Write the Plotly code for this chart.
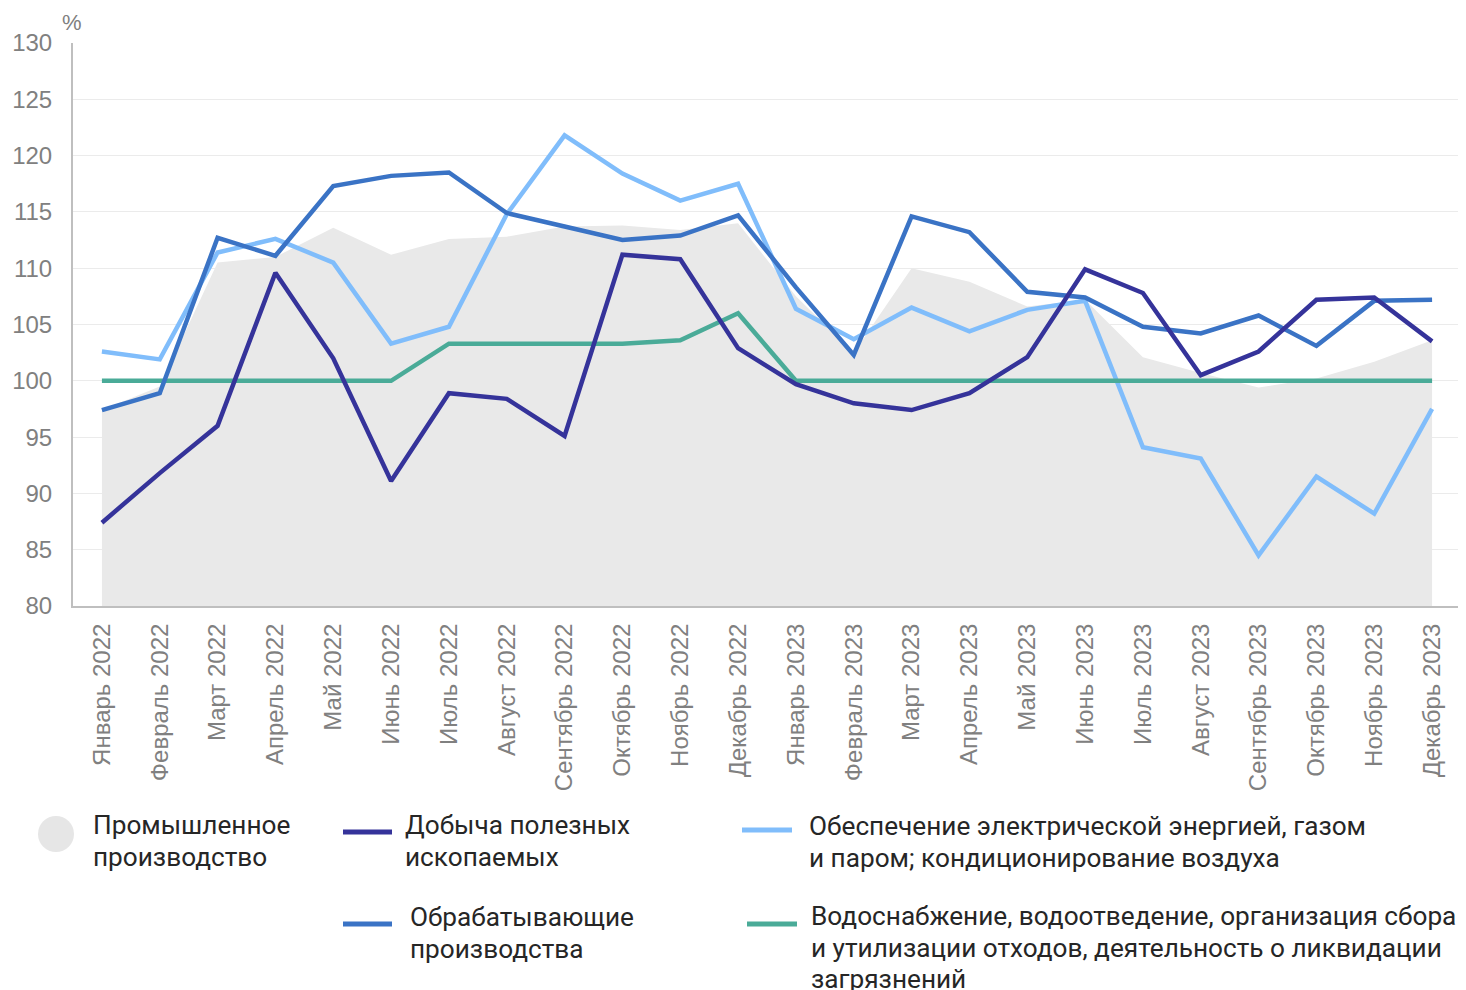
import plotly.graph_objects as go

months = ["Январь 2022", "Февраль 2022", "Март 2022", "Апрель 2022", "Май 2022", "Июнь 2022",
          "Июль 2022", "Август 2022", "Сентябрь 2022", "Октябрь 2022", "Ноябрь 2022", "Декабрь 2022",
          "Январь 2023", "Февраль 2023", "Март 2023", "Апрель 2023", "Май 2023", "Июнь 2023",
          "Июль 2023", "Август 2023", "Сентябрь 2023", "Октябрь 2023", "Ноябрь 2023", "Декабрь 2023"]

industrial = [97.4, 99.5, 110.5, 111.0, 113.6, 111.2, 112.6, 112.8, 113.7, 113.8, 113.4, 114.0,
              107.5, 102.5, 110.0, 108.8, 106.6, 107.2, 102.1, 100.7, 99.4, 100.2, 101.7, 103.6]
mining = [87.4, 91.8, 96.0, 109.6, 102.0, 91.1, 98.9, 98.4, 95.1, 111.2, 110.8, 102.9,
          99.7, 98.0, 97.4, 98.9, 102.1, 109.9, 107.8, 100.5, 102.6, 107.2, 107.4, 103.5]
manufacturing = [97.4, 98.9, 112.7, 111.1, 117.3, 118.2, 118.5, 114.9, 113.7, 112.5, 112.9, 114.7,
                 108.3, 102.3, 114.6, 113.2, 107.9, 107.4, 104.8, 104.2, 105.8, 103.1, 107.1, 107.2]
electricity = [102.6, 101.9, 111.4, 112.6, 110.5, 103.3, 104.8, 114.8, 121.8, 118.4, 116.0, 117.5,
               106.4, 103.7, 106.5, 104.4, 106.3, 107.1, 94.1, 93.1, 84.5, 91.5, 88.2, 97.5]
water = [100.0, 100.0, 100.0, 100.0, 100.0, 100.0, 103.3, 103.3, 103.3, 103.3, 103.6, 106.0,
         100.0, 100.0, 100.0, 100.0, 100.0, 100.0, 100.0, 100.0, 100.0, 100.0, 100.0, 100.0]

y_ticks = [80, 85, 90, 95, 100, 105, 110, 115, 120, 125, 130]

legend_lines = {
    "industrial": ["Промышленное", "производство"],
    "mining": ["Добыча полезных", "ископаемых"],
    "electricity": ["Обеспечение электрической энергией, газом",
                    "и паром; кондиционирование воздуха"],
    "manufacturing": ["Обрабатывающие", "производства"],
    "water": ["Водоснабжение, водоотведение, организация сбора",
              "и утилизации отходов, деятельность о ликвидации",
              "загрязнений"],
}
colors = {
    "industrial": "#e9e9e9",
    "mining": "#35339a",
    "manufacturing": "#3a73c5",
    "electricity": "#80bdfb",
    "water": "#4aab98",
}

# page offset (body margin) compensation
OFF = 8
W, H = 1466 - OFF, 990 - OFF
L, R, T, B = 73 - OFF, 1461 - OFF, 43 - OFF, 606 - OFF


def px(x):
    return (x - OFF - L) / (R - L)


def py(y):
    return (B - (y - OFF)) / (B - T)


fig = go.Figure()
fig.add_trace(go.Scatter(x=months, y=industrial, mode="lines", fill="tozeroy",
                         fillcolor=colors["industrial"], line=dict(width=0, color=colors["industrial"]),
                         showlegend=False, name="Промышленное производство"))
for key, vals in [("electricity", electricity), ("water", water),
                  ("manufacturing", manufacturing), ("mining", mining)]:
    fig.add_trace(go.Scatter(x=months, y=vals, mode="lines", showlegend=False,
                             name=" ".join(legend_lines[key]),
                             line=dict(color=colors[key], width=4.5)))

font_family = "Liberation Sans, Arial, sans-serif"
leg_font = "Roboto, Liberation Sans, Arial, sans-serif"
tick_color = "#808080"

shapes = []
annotations = []

# legend markers
shapes.append(dict(type="circle", xref="paper", yref="paper",
                   x0=px(38), x1=px(74), y0=py(852), y1=py(816),
                   fillcolor="#e6e6e6", line=dict(width=0)))
leg_marks = [("mining", 343, 392, 832), ("electricity", 742, 792, 830),
             ("manufacturing", 343, 392, 924), ("water", 747, 797, 924)]
for key, x0, x1, yy in leg_marks:
    shapes.append(dict(type="line", xref="paper", yref="paper",
                       x0=px(x0), x1=px(x1), y0=py(yy), y1=py(yy),
                       line=dict(color=colors[key], width=5)))

leg_text = [("industrial", 93, 825), ("mining", 405, 825), ("electricity", 809, 826),
            ("manufacturing", 410, 917), ("water", 811, 916)]
for key, x0, y0 in leg_text:
    for i, line in enumerate(legend_lines[key]):
        annotations.append(dict(text=line, xref="paper", yref="paper",
                                x=px(x0), y=py(y0 + 31.5 * i), xanchor="left", yanchor="middle",
                                align="left", showarrow=False, xshift=-2,
                                font=dict(family=leg_font, size=26.2, color="#262626")))

annotations.append(dict(text="%", xref="paper", yref="paper", x=px(72), y=py(22),
                        xanchor="center", yanchor="middle", showarrow=False,
                        font=dict(family=font_family, size=22, color=tick_color)))

fig.update_layout(
    width=W, height=H,
    margin=dict(l=L, r=W - R, t=T, b=H - B, autoexpand=False),
    paper_bgcolor="white", plot_bgcolor="white",
    font=dict(family=font_family, size=24, color=tick_color),
    shapes=shapes, annotations=annotations,
    showlegend=False,
)
fig.update_xaxes(type="category", range=[-0.5, 23.5], tickangle=-90,
                 showgrid=False, showline=True, linecolor="#bfbfbf", linewidth=2,
                 ticks="", tickfont=dict(size=24, color=tick_color), ticklabelstandoff=6)
fig.update_yaxes(range=[80, 130], tickvals=y_ticks, showgrid=True, gridcolor="#ebebeb", gridwidth=1,
                 showline=True, linecolor="#bfbfbf", linewidth=2, zeroline=False,
                 ticks="", tickfont=dict(size=24, color=tick_color), ticklabelstandoff=14)

fig.write_html("out.html")
